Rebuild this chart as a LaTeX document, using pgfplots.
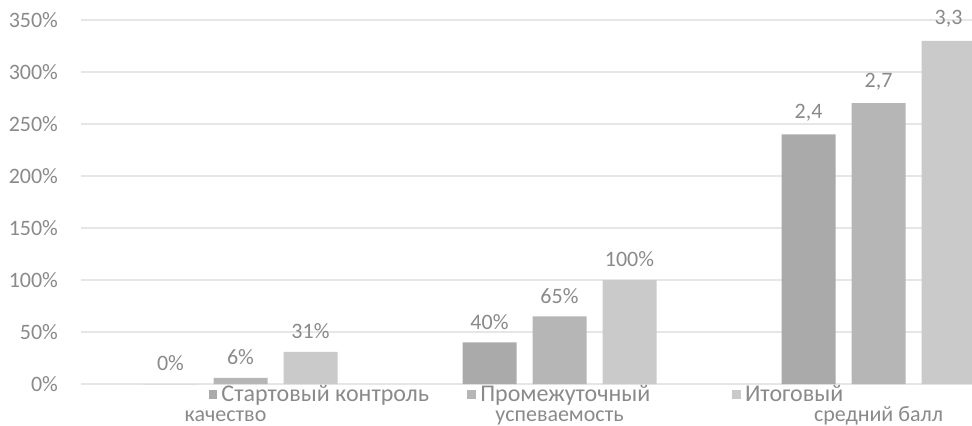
\documentclass[border=0pt]{standalone}
\usepackage{fontspec}
\setmainfont{Carlito}
\usepackage{pgfplots}
\pgfplotsset{compat=1.18}

\definecolor{txt}{RGB}{138,138,138}
\definecolor{gridc}{RGB}{230,230,230}
\definecolor{startc}{RGB}{170,170,170}
\definecolor{midc}{RGB}{182,182,182}
\definecolor{finc}{RGB}{202,202,202}

\begin{document}
\begin{tikzpicture}
\useasboundingbox (-40.5pt,-20.5pt) rectangle (445.5pt,192pt);
\begin{axis}[
  at={(0,0)}, anchor=south west,
  scale only axis, width=478.5pt, height=182pt,
  ybar=8pt, bar width=27pt,
  xmin=-0.5, xmax=2.5, ymin=0, ymax=350,
  axis line style={draw=none},
  major tick length=0pt,
  xtick={0,1,2},
  xticklabels={\kern-15pt качество,успеваемость,средний балл},
  ytick={0,50,100,150,200,250,300,350},
  yticklabels={0\%,50\%,100\%,150\%,200\%,250\%,300\%,350\%},
  ymajorgrids, grid style={draw=gridc, line width=0.6pt},
  tick label style={font=\fontsize{11}{13}\selectfont, text=txt},
  xticklabel style={anchor=base, yshift=-18.8pt, text height=1.6ex, text depth=0.4ex},
  yticklabel style={xshift=-8pt},
  nodes near coords,
  point meta=explicit symbolic,
  every node near coord/.append style={font=\fontsize{11}{13}\selectfont, text=txt, yshift=3pt},
  clip=false,
  legend columns=3,
  legend style={at={(0.133,-0.029)}, anchor=west, draw=none, fill=none,
    font=\fontsize{12}{13}\selectfont, text=txt, inner sep=0pt,
    /tikz/every even column/.append style={column sep=0pt}},
  legend image code/.code={\fill[#1,draw=none] (0pt,-2.2pt) rectangle (4.4pt,2.2pt);},
]
\addplot[fill=startc, draw=none] coordinates {(0,0) [0\%] (1,40) [40\%] (2,240) [{2,4}]};
\addlegendentry{\makebox[121pt][l]{Стартовый контроль}}
\addplot[fill=midc, draw=none] coordinates {(0,6) [6\%] (1,65) [65\%] (2,270) [{2,7}]};
\addlegendentry{\makebox[124pt][l]{Промежуточный}}
\addplot[fill=finc, draw=none] coordinates {(0,31) [31\%] (1,100) [100\%] (2,330) [{3,3}]};
\addlegendentry{Итоговый}
\end{axis}
\end{tikzpicture}
\end{document}
